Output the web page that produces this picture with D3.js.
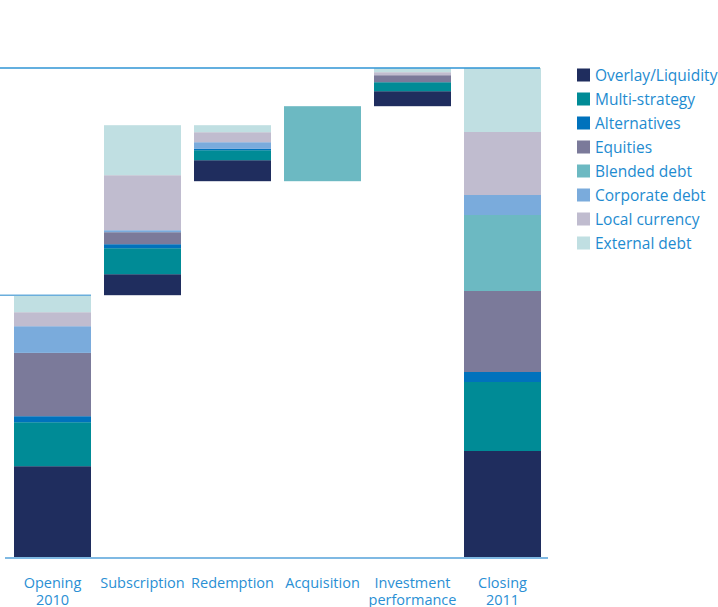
<!DOCTYPE html>
<html><head><meta charset="utf-8">
<script src="https://cdn.jsdelivr.net/npm/d3@7"></script>
<style>body{margin:0;background:#fff;}svg{display:block;}</style>
</head><body>
<svg id="chart" width="718" height="607"></svg>
<script>
// Steps of the waterfall
const steps = ["Opening\n2010", "Subscription", "Redemption", "Acquisition", "Investment\nperformance", "Closing\n2011"];
const stepType = ["total", "delta", "delta", "delta", "delta", "total"];
const stepSign = [1, 1, -1, 1, 1, 1];
// Asset classes, bottom to top
const classes = ["Overlay/Liquidity", "Multi-strategy", "Alternatives", "Equities", "Blended debt", "Corporate debt", "Local currency", "External debt"];
const colors = ["#1f2d5e", "#008b96", "#0072bc", "#7b7a9a", "#6cb9c2", "#7aabdc", "#c0bccf", "#c0dfe2"];
// Values per step (same order as classes), absolute magnitude
const opening2010   = [91.3, 44, 6, 63.3, 0, 26.7, 14, 17];
const subscription  = [21, 26, 4, 12, 0, 2, 55, 50];
const redemption    = [21, 10, 1.3, 0, 0, 6.7, 10, 7];
const acquisition   = [0, 0, 0, 0, 75, 0, 0, 0];
const investment    = [15, 9, 0, 7, 0, 0, 3, 4];
const closing2011   = [106.5, 69, 10, 81, 76, 20, 63, 64];
const stepValues = [opening2010, subscription, redemption, acquisition, investment, closing2011];

const svg = d3.select("#chart");
const y = d3.scaleLinear().domain([0, 500]).range([557.5, 57.5]);
const x = d3.scaleBand().domain(steps).range([14, 14 + 90 * 6 - 13]).paddingInner(13 / 90).paddingOuter(0);

// Build segments
const segs = [];
let level = 0;
const levels = [];
stepValues.forEach((vals, i) => {
  const tot = d3.sum(vals);
  let base;
  if (stepType[i] === "total") { base = 0; level = tot; }
  else if (stepSign[i] > 0) { base = level; level = level + tot; }
  else { level = level - tot; base = level; }
  levels.push(level);
  let cum = base;
  vals.forEach((v, k) => {
    if (v > 0) segs.push({step: steps[i], k, y0: cum, y1: cum + v});
    cum += v;
  });
});

svg.append("g").selectAll("rect").data(segs).join("rect")
  .attr("x", d => x(d.step))
  .attr("width", x.bandwidth())
  .attr("y", d => y(d.y1))
  .attr("height", d => y(d.y0) - y(d.y1))
  .attr("fill", d => colors[d.k]);

// reference lines
const closeLevel = levels[5];
const openLevel = levels[0];
svg.append("line").attr("x1", 0).attr("x2", x(steps[5]) + x.bandwidth() - 1)
  .attr("y1", y(closeLevel)).attr("y2", y(closeLevel))
  .attr("stroke", "#2f95d5").attr("stroke-width", 1.5);
svg.append("line").attr("x1", 0).attr("x2", x(steps[0]) + x.bandwidth())
  .attr("y1", y(openLevel)).attr("y2", y(openLevel))
  .attr("stroke", "#6aaedc").attr("stroke-width", 1.5);
svg.append("line").attr("x1", 5).attr("x2", 548)
  .attr("y1", y(0) + 0.5).attr("y2", y(0) + 0.5)
  .attr("stroke", "#7fb9e3").attr("stroke-width", 2);

// category labels
const lab = svg.append("g").attr("font-family", "'Open Sans', sans-serif").attr("font-size", 14.5)
  .attr("fill", "#2a8fd4").attr("text-anchor", "middle");
steps.forEach(s => {
  s.split("\n").forEach((line, j) => {
    lab.append("text").attr("x", x(s) + x.bandwidth() / 2).attr("y", j === 0 ? 588 : 605).text(line);
  });
});

// legend
const lg = svg.append("g").attr("font-family", "'Open Sans', sans-serif").attr("font-size", 15.5).attr("fill", "#1e8bd0");
classes.forEach((c, i) => {
  const yy = 75 + i * 24;
  lg.append("rect").attr("x", 577).attr("y", yy - 6.5).attr("width", 13).attr("height", 13).attr("fill", colors[i]);
  lg.append("text").attr("x", 595).attr("y", yy + 5.5).text(c);
});
</script>
</body></html>
